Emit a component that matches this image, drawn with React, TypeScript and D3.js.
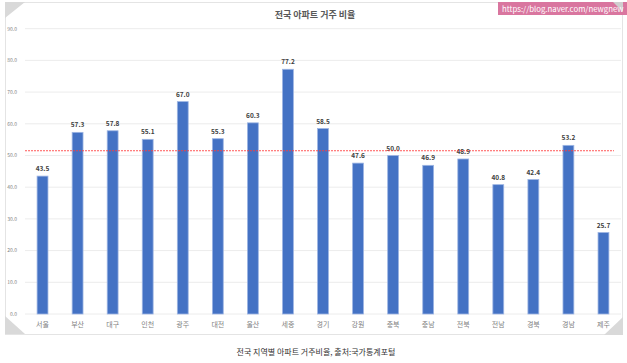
import * as d3 from 'd3';

const regions = ['서울', '부산', '대구', '인천', '광주', '대전', '울산', '세종', '경기', '강원', '충북', '충남', '전북', '전남', '경북', '경남', '제주'];
const ratios = [43.5, 57.3, 57.8, 55.1, 67.0, 55.3, 60.3, 77.2, 58.5, 47.6, 50.0, 46.9, 48.9, 40.8, 42.4, 53.2, 25.7];
const yTicks = [0, 10, 20, 30, 40, 50, 60, 70, 80, 90];
const averageLine = 51.5;

const chartTitle = '전국 아파트 거주 비율';
const caption = '전국 지역별 아파트 거주비율, 출처:국가통계포털';
const watermark = 'https://blog.naver.com/newgnew';

const W = 627;
const H = 363;
const font = '"Noto Sans CJK KR", "Noto Sans", sans-serif';

export default function App() {
    // plot area
    const left = 25;
    const right = 621;
    const top = 28.7;
    const bottom = 314;

    const x = d3.scaleBand<string>().domain(regions).range([left, right]).paddingInner(0.69).paddingOuter(0.345);
    const y = d3.scaleLinear().domain([0, 90]).range([bottom, top]);

    return (
        <div style={{ position: 'absolute', left: 0, top: 0 }}>
            <svg width={W} height={H} style={{ display: 'block', fontFamily: font }}>
                <rect x={0} y={0} width={W} height={H} fill="#ffffff" />

                {/* card */}
                <rect x={5.5} y={2.5} width={617} height={332} fill="#ffffff" stroke="#e4e4e4" strokeWidth={1} />
                <path d="M5,2 L25,2 L5,18 Z" fill="#d9d9d9" />
                <path d="M5,316 L5,334 L25,334 Z" fill="#d9d9d9" />
                <path d="M623,317 L623,335 L604,335 Z" fill="#d9d9d9" />

                {/* grid */}
                {yTicks.map(t => (
                    <g key={t}>
                        <line x1={left} x2={right} y1={y(t)} y2={y(t)} stroke="#ececec" strokeWidth={1} />
                        <text x={17} y={y(t) + 1.8} textAnchor="end" fontSize={5} fill="#7f7f7f">{t.toFixed(1)}</text>
                    </g>
                ))}

                {/* bars */}
                {regions.map((r, i) => (
                    <g key={r}>
                        <rect
                            x={x(r)!}
                            y={y(ratios[i])}
                            width={x.bandwidth()}
                            height={y(0) - y(ratios[i])}
                            fill="#4472c4"
                            stroke="#9db5e3"
                            strokeWidth={0.8}
                        />
                        <text
                            x={x(r)! + x.bandwidth() / 2}
                            y={y(ratios[i]) - 5}
                            textAnchor="middle"
                            fontSize={6.5}
                            fontWeight="bold"
                            fill="#404040"
                        >
                            {ratios[i].toFixed(1)}
                        </text>
                        <text
                            x={x(r)! + x.bandwidth() / 2}
                            y={327}
                            textAnchor="middle"
                            fontSize={7}
                            fill="#7f7f7f"
                        >
                            {r}
                        </text>
                    </g>
                ))}

                {/* average */}
                <line x1={left} x2={614} y1={y(averageLine)} y2={y(averageLine)} stroke="#ff3b3b" strokeWidth={1} strokeDasharray="2,1" opacity={0.85} />

                <text x={315} y={18} textAnchor="middle" fontSize={9} fontWeight="bold" fill="#595959">{chartTitle}</text>

                {/* watermark */}
                <rect x={498} y={2} width={129} height={13} fill="#d9769f" />
                <path d="M613,2 L623,2 L623,12 Z" fill="#cfcfcf" />
                <text x={502} y={11.5} fontSize={7.8} fill="#ffffff">{watermark}</text>

                <text x={316} y={355} textAnchor="middle" fontSize={8} fill="#333333">{caption}</text>
            </svg>
        </div>
    );
}
